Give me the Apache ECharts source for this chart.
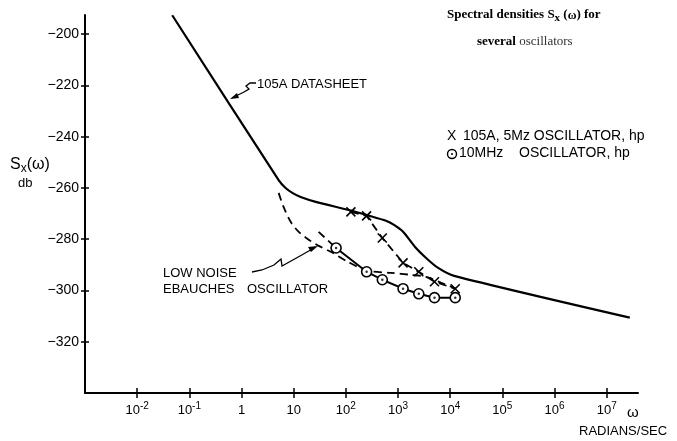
<!DOCTYPE html>
<html><head><meta charset="utf-8">
<script src="https://cdn.jsdelivr.net/npm/echarts@6/dist/echarts.min.js"></script>
<style>html,body{margin:0;padding:0;background:#fff}#c{width:677px;height:441px}</style>
</head><body><div id="c"></div>
<script>
// tick values
const xTicks = [0.01, 0.1, 1, 10, 100, 1000, 1e4, 1e5, 1e6, 1e7];
const yTicks = [-320, -300, -280, -260, -240, -220, -200];

// 105A datasheet (solid)
const datasheetW  = [0.047, 5.15, 7.0, 9.6, 13.6, 26.5, 114, 265, 588, 838, 1250, 2120, 3450, 5880, 11900, 2.77e7];
const datasheetDb = [-192.6, -256.9, -260.0, -262.0, -263.5, -265.4, -268.6, -270.7, -272.8, -274.4, -277.1, -283.0, -287.3, -291.2, -294.3, -310.6];

// Low noise Ebauches oscillator (dashed)
const ebauchesW  = [5.15, 6.4, 8.75, 12.5, 19.4, 30.2, 51.5, 109, 265, 733, 1778, 3450, 6710, 13000];
const ebauchesDb = [-261.9, -267.4, -273.2, -277.1, -280.2, -282.6, -284.9, -288.8, -292.3, -293.1, -293.9, -294.7, -297.0, -299.3];

// X : 105A, 5 MHz oscillator, hp
const hp105W  = [125, 250, 500, 1250, 2500, 5000, 12500];
const hp105Db = [-269.3, -270.9, -279.5, -289.2, -292.7, -296.6, -299.3];

// circle-dot : 10 MHz oscillator, hp
const hp10W  = [65, 250, 500, 1250, 2500, 5000, 12500];
const hp10Db = [-283.4, -292.7, -295.8, -299.3, -301.3, -302.8, -302.8];
// dashed lead-in of the 10 MHz curve
const hp10LeadW  = [30, 65];
const hp10LeadDb = [-277.1, -283.4];

const zip = (a, b) => a.map((v, i) => [v, b[i]]);
const SANS = 'Liberation Sans, Arial, sans-serif';
const SERIF = 'Liberation Serif, Times New Roman, serif';

const chart = echarts.init(document.getElementById('c'), null, {renderer: 'canvas'});

function xLabel(v) {
  const e = Math.round(Math.log10(v));
  if (e === 0) return '{b|1}';
  if (e === 1) return '{b|10}';
  return '{b|10}{s|' + e + '}';
}

const xBase = {
  type: 'log', logBase: 10, min: 0.001, max: Math.pow(10, 7.6),
  splitLine: {show: false}, minorTick: {show: false},
  axisLine: {show: true, lineStyle: {color: '#000', width: 2}},
};
const yBase = {
  type: 'value', min: -340, max: -192.5, interval: 20,
  splitLine: {show: false},
  axisLine: {show: true, lineStyle: {color: '#000', width: 2}},
};

const option = {
  animation: false,
  backgroundColor: '#fff',
  grid: {left: 85, right: 39, top: 15, bottom: 48, containLabel: false},
  xAxis: [
    Object.assign({}, xBase, {
      position: 'bottom',
      axisTick: {show: true, inside: false, length: 5, customValues: xTicks, lineStyle: {color: '#000', width: 1.5}},
      axisLabel: {
        show: true, customValues: xTicks, margin: 8, formatter: xLabel,
        rich: {
          b: {fontFamily: SANS, fontSize: 13, color: '#000', verticalAlign: 'bottom', lineHeight: 16},
          s: {fontFamily: SANS, fontSize: 10, color: '#000', verticalAlign: 'top', lineHeight: 16, padding: [0, 0, 6, 0]}
        }
      }
    }),
    Object.assign({}, xBase, {
      position: 'bottom',
      axisLine: {show: false},
      axisTick: {show: true, inside: true, length: 5, customValues: xTicks, lineStyle: {color: '#000', width: 1.5}},
      axisLabel: {show: false}
    })
  ],
  yAxis: [
    Object.assign({}, yBase, {
      position: 'left',
      axisTick: {show: true, inside: false, length: 4, customValues: yTicks, lineStyle: {color: '#000', width: 1.5}},
      axisLabel: {show: true, customValues: yTicks, margin: 6, fontFamily: SANS, fontSize: 14, color: '#000',
        formatter: v => '\u2212' + Math.abs(v)}
    }),
    Object.assign({}, yBase, {
      position: 'left',
      axisLine: {show: false},
      axisTick: {show: true, inside: true, length: 4, customValues: yTicks, lineStyle: {color: '#000', width: 1.5}},
      axisLabel: {show: false}
    })
  ],
  series: [
    {name: '105A datasheet', type: 'line', data: zip(datasheetW, datasheetDb), symbol: 'none', smooth: 0.25,
      lineStyle: {color: '#000', width: 2.2}, z: 2},
    {name: 'Low noise Ebauches', type: 'line', data: zip(ebauchesW, ebauchesDb), symbol: 'none', smooth: 0.3,
      lineStyle: {color: '#000', width: 1.8, type: [8, 5]}, z: 2},
    {name: '105A 5MHz hp', type: 'line', data: zip(hp105W, hp105Db),
      symbol: 'path://M0,0L10,10M10,0L0,10', symbolSize: 9, symbolKeepAspect: true,
      itemStyle: {color: '#000', borderColor: '#000', borderWidth: 1.6},
      lineStyle: {color: '#000', width: 1.8, type: [8, 5]}, z: 3},
    {name: '10MHz lead', type: 'line', data: zip(hp10LeadW, hp10LeadDb), symbol: 'none',
      lineStyle: {color: '#000', width: 1.8, type: [8, 5]}, z: 2},
    {name: '10MHz hp', type: 'line', data: zip(hp10W, hp10Db), symbol: 'circle', symbolSize: 10,
      itemStyle: {color: '#fff', borderColor: '#000', borderWidth: 1.6},
      lineStyle: {color: '#000', width: 2}, z: 4},
    {name: '10MHz dots', type: 'scatter', data: zip(hp10W, hp10Db), symbol: 'circle', symbolSize: 2.5,
      itemStyle: {color: '#000'}, z: 5}
  ],
  graphic: [
    // title
    {type: 'text', left: 447, top: 8, style: {text: 'Spectral densities S{sub|x} ({w|ω}) for', font: 'bold 13px ' + SERIF, fill: '#000',
      rich: {sub: {font: 'bold 11px ' + SERIF, padding: [7, 0, 0, 0]}, w: {font: 'bold 12px ' + SERIF, padding: [3, 0, 0, 0]}}}},
    {type: 'text', left: 477, top: 35, style: {text: 'several {l|oscillators}', font: 'bold 13px ' + SERIF, fill: '#000',
      rich: {l: {font: '13px ' + SERIF, fill: '#333'}}}},
    // legend
    {type: 'text', left: 447, top: 129, style: {text: 'X', font: '14px ' + SANS, fill: '#000'}},
    {type: 'text', left: 463, top: 129, style: {text: '105A, 5Mz OSCILLATOR, hp', font: '14px ' + SANS, fill: '#000'}},
    {type: 'circle', shape: {cx: 452, cy: 154, r: 4.5}, style: {fill: '#fff', stroke: '#000', lineWidth: 1.4}},
    {type: 'circle', shape: {cx: 452, cy: 154, r: 1}, style: {fill: '#000'}},
    {type: 'text', left: 459, top: 146, style: {text: '10MHz', font: '14px ' + SANS, fill: '#000'}},
    {type: 'text', left: 519, top: 146, style: {text: 'OSCILLATOR, hp', font: '14px ' + SANS, fill: '#000'}},
    // y axis name
    {type: 'text', left: 10, top: 157, style: {text: 'S{sub|x}(ω)', font: '16px ' + SANS, fill: '#000',
      rich: {sub: {font: '12px ' + SANS, padding: [8, 0, 0, 0]}}}},
    {type: 'text', left: 18, top: 177, style: {text: 'db', font: '13px ' + SANS, fill: '#000'}},
    // x axis name
    {type: 'text', left: 627, top: 405, style: {text: 'ω', font: '15px ' + SANS, fill: '#000'}},
    {type: 'text', left: 579, top: 425, style: {text: 'RADIANS/SEC', font: '13px ' + SANS, fill: '#000'}},
    // annotations
    {type: 'text', left: 257, top: 78, style: {text: '105A DATASHEET', font: '13px ' + SANS, fill: '#000'}},
    {type: 'polyline', shape: {points: [[256, 83], [250, 83], [246, 86], [249, 89], [244, 92], [232, 98]]},
      style: {stroke: '#000', lineWidth: 1.3, fill: null}},
    {type: 'polygon', shape: {points: [[230, 99], [237, 93], [239, 98]]}, style: {fill: '#000'}},
    {type: 'text', left: 163, top: 267, style: {text: 'LOW NOISE', font: '13px ' + SANS, fill: '#000'}},
    {type: 'text', left: 163, top: 283, style: {text: 'EBAUCHES', font: '13px ' + SANS, fill: '#000'}},
    {type: 'text', left: 247, top: 283, style: {text: 'OSCILLATOR', font: '13px ' + SANS, fill: '#000'}},
    {type: 'polyline', shape: {points: [[252, 272], [262, 270], [274, 265], [281, 259], [282, 266], [300, 256], [314, 248]]},
      style: {stroke: '#000', lineWidth: 1.3, fill: null}},
    {type: 'polygon', shape: {points: [[318, 246], [308, 247], [311, 252]]}, style: {fill: '#000'}}
  ]
};
chart.setOption(option);
</script>
</body></html>
